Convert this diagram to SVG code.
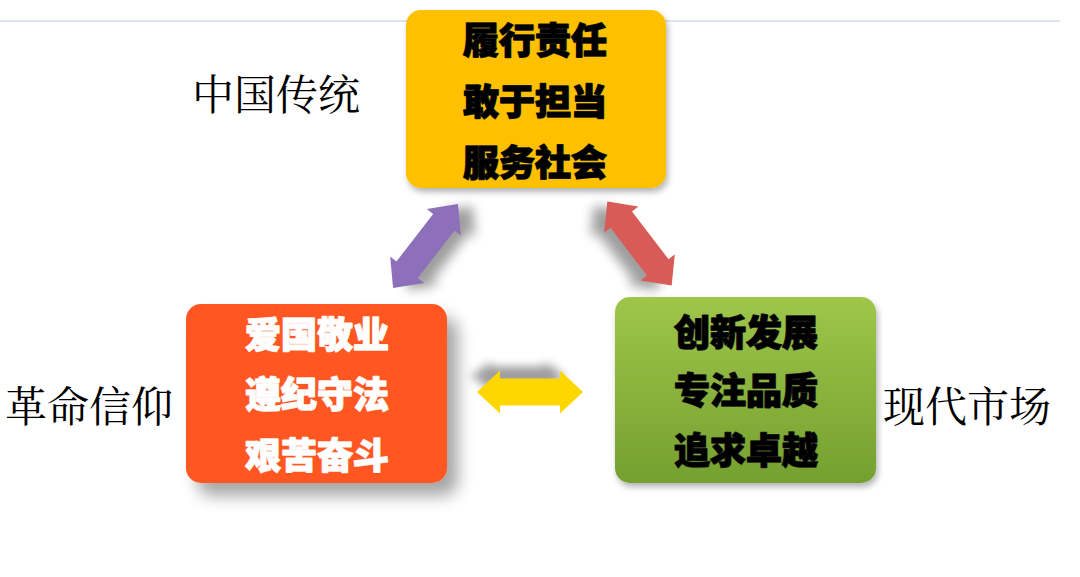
<svg xmlns="http://www.w3.org/2000/svg" width="1080" height="577" viewBox="0 0 1080 577">
  <defs>
    <linearGradient id="gGreen" x1="0" y1="0" x2="0" y2="1">
      <stop offset="0" stop-color="#9EC64A"/>
      <stop offset="1" stop-color="#74A02F"/>
    </linearGradient>
    <filter id="boxShadow" x="-20%" y="-20%" width="150%" height="150%">
      <feGaussianBlur in="SourceAlpha" stdDeviation="8"/>
      <feOffset dx="11" dy="13" result="b"/>
      <feComponentTransfer><feFuncA type="linear" slope="0.35"/></feComponentTransfer>
      <feMerge><feMergeNode/><feMergeNode in="SourceGraphic"/></feMerge>
    </filter>
    <filter id="boxShadowSmall" x="-20%" y="-20%" width="150%" height="150%">
      <feGaussianBlur in="SourceAlpha" stdDeviation="3"/>
      <feOffset dx="2" dy="4" result="b"/>
      <feComponentTransfer><feFuncA type="linear" slope="0.3"/></feComponentTransfer>
      <feMerge><feMergeNode/><feMergeNode in="SourceGraphic"/></feMerge>
    </filter>
    <filter id="blur" x="-50%" y="-50%" width="200%" height="200%">
      <feGaussianBlur stdDeviation="6"/>
    </filter>
    <polygon id="dblArrow" points="-53,0 -30,-21.5 -30,-13.5 30,-13.5 30,-21.5 53,0 30,21.5 30,13.5 -30,13.5 -30,21.5"/>
  </defs>
  <style>
    .box-text { font-family: "Noto Sans CJK SC", sans-serif; font-size: 36px; font-weight: 900; text-anchor: middle; dominant-baseline: central; stroke-width: 1.5; stroke-linejoin: round; paint-order: stroke fill; }
    .dark { fill: #000; stroke: #1a1a1a; }
    .light { fill: #fff; stroke: #fbeee8; }
    .label { font-family: "Noto Serif CJK SC", "Noto Sans CJK SC", serif; font-size: 42px; fill: #000; dominant-baseline: central; }
    .shadow { fill: #000; opacity: 0.38; }
  </style>
  <rect width="1080" height="577" fill="#fff"/>
  <line x1="0" y1="21" x2="1060" y2="21" stroke="#DCE4EF" stroke-width="2"/>

  <g id="connectors">
    <use href="#dblArrow" class="shadow" filter="url(#blur)" transform="translate(440,248) rotate(-52.3)"/>
    <use href="#dblArrow" class="shadow" filter="url(#blur)" transform="translate(626,248) rotate(52.6)"/>
    <use href="#dblArrow" class="shadow" filter="url(#blur)" transform="translate(518,376) scale(0.88,0.7)"/>
    <use id="arrow-purple" href="#dblArrow" fill="#8E6FBA" transform="translate(425.5,246) rotate(-52.3)"/>
    <use id="arrow-red" href="#dblArrow" fill="#D95B57" transform="translate(639.5,243.5) rotate(52.6)"/>
    <use id="arrow-yellow" href="#dblArrow" fill="#FFD700" transform="translate(530,392)"/>
  </g>

  <g id="node-top">
    <rect x="406" y="10" width="260" height="178" rx="15" fill="#FFC000" filter="url(#boxShadowSmall)"/>
    <text class="box-text dark" x="535" y="38">履行责任</text>
    <text class="box-text dark" x="535" y="99">敢于担当</text>
    <text class="box-text dark" x="535" y="160">服务社会</text>
  </g>

  <g id="node-left">
    <rect x="186" y="304" width="261" height="179" rx="15" fill="#FF5722" filter="url(#boxShadow)"/>
    <text class="box-text light" x="317" y="332">爱国敬业</text>
    <text class="box-text light" x="317" y="392">遵纪守法</text>
    <text class="box-text light" x="317" y="453">艰苦奋斗</text>
  </g>

  <g id="node-right">
    <rect x="615" y="297" width="261" height="186" rx="15" fill="url(#gGreen)" filter="url(#boxShadowSmall)"/>
    <text class="box-text dark" x="746" y="330">创新发展</text>
    <text class="box-text dark" x="746" y="388">专注品质</text>
    <text class="box-text dark" x="746" y="448">追求卓越</text>
  </g>

  <g id="labels">
    <text class="label" x="192" y="92">中国传统</text>
    <text class="label" x="5" y="404">革命信仰</text>
    <text class="label" x="883" y="404">现代市场</text>
  </g>
</svg>
